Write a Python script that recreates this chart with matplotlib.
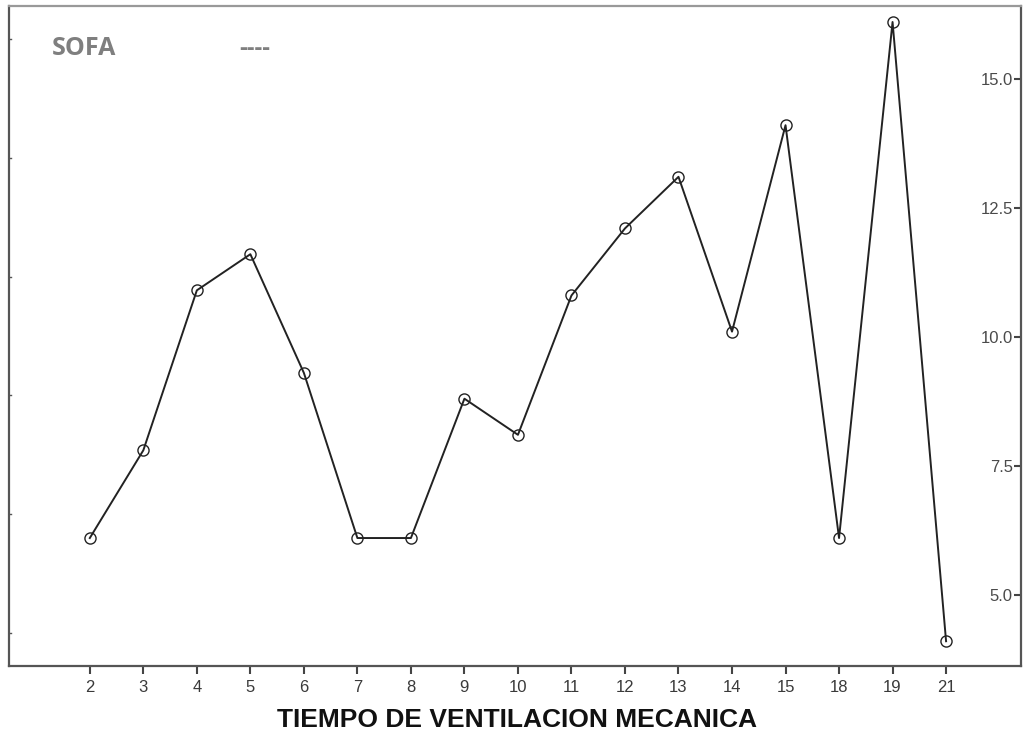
import matplotlib
matplotlib.use("Agg")
from matplotlib import pyplot as plt

# TIEMPO DE VENTILACION MECANICA vs SOFA medio
dias = ['2', '3', '4', '5', '6', '7', '8', '9', '10', '11', '12', '13', '14', '15', '18', '19', '21']
sofa = [6.1, 7.8, 10.9, 11.6, 9.3, 6.1, 6.1, 8.8, 8.1, 10.8, 12.1, 13.1, 10.1, 14.1, 6.1, 16.1, 4.1]
ticks_der = [5.0, 7.5, 10.0, 12.5, 15.0]
ticks_izq = [4.26, 6.57, 8.87, 11.16, 13.46, 15.77]

fig = plt.figure(figsize=(10.24, 7.37), dpi=100)
ax = fig.add_axes([9 / 1024, 1 - 666 / 737, 1012 / 1024, 660 / 737])

x = list(range(len(dias)))
ax.plot(x, sofa, color='#222222', lw=1.4, marker='o', markersize=8,
        markerfacecolor='none', markeredgecolor='#222222', markeredgewidth=1.0)

ax.set_xlim(-1.51, 17.40)
ax.set_ylim(3.62, 16.41)

ax.set_xticks(x)
ax.set_xticklabels(dias, fontsize=12, color='#3a3a3a', family='Liberation Sans')
ax.tick_params(axis='x', direction='out', length=6, width=1.5, color='#444444', pad=4)

ax.yaxis.tick_right()
ax.set_yticks(ticks_der)
ax.set_yticklabels(['%.1f' % t for t in ticks_der], fontsize=12, color='#4a4a4a',
                   family='Liberation Sans')
for lab in ax.get_yticklabels():
    lab.set_horizontalalignment('right')
ax.tick_params(axis='y', direction='in', length=5, width=1.5, color='#444444', pad=-6)

# marcas sin etiqueta en el eje izquierdo
for t in ticks_izq:
    ax.plot([-1.51, -1.51 + 0.03], [t, t], color='#555555', lw=1.0, clip_on=False)

for s in ax.spines.values():
    s.set_color('#555555')
    s.set_linewidth(1.6)
ax.spines['top'].set_color('#999999')

ax.text(0.042, 0.935, 'SOFA', transform=ax.transAxes, fontsize=18, fontweight='bold',
        color='#7f7f7f', family='Open Sans', va='center')
ax.text(0.228, 0.935, '----', transform=ax.transAxes, fontsize=17, fontweight='bold',
        color='#7f7f7f', family='Open Sans', va='center')

fig.text(517 / 1024, 1 - 720 / 737, 'TIEMPO DE VENTILACION MECANICA', ha='center', va='center',
         fontsize=19, fontweight='bold', color='#111111', family='Liberation Sans')

fig.savefig('out.png', dpi=100)
